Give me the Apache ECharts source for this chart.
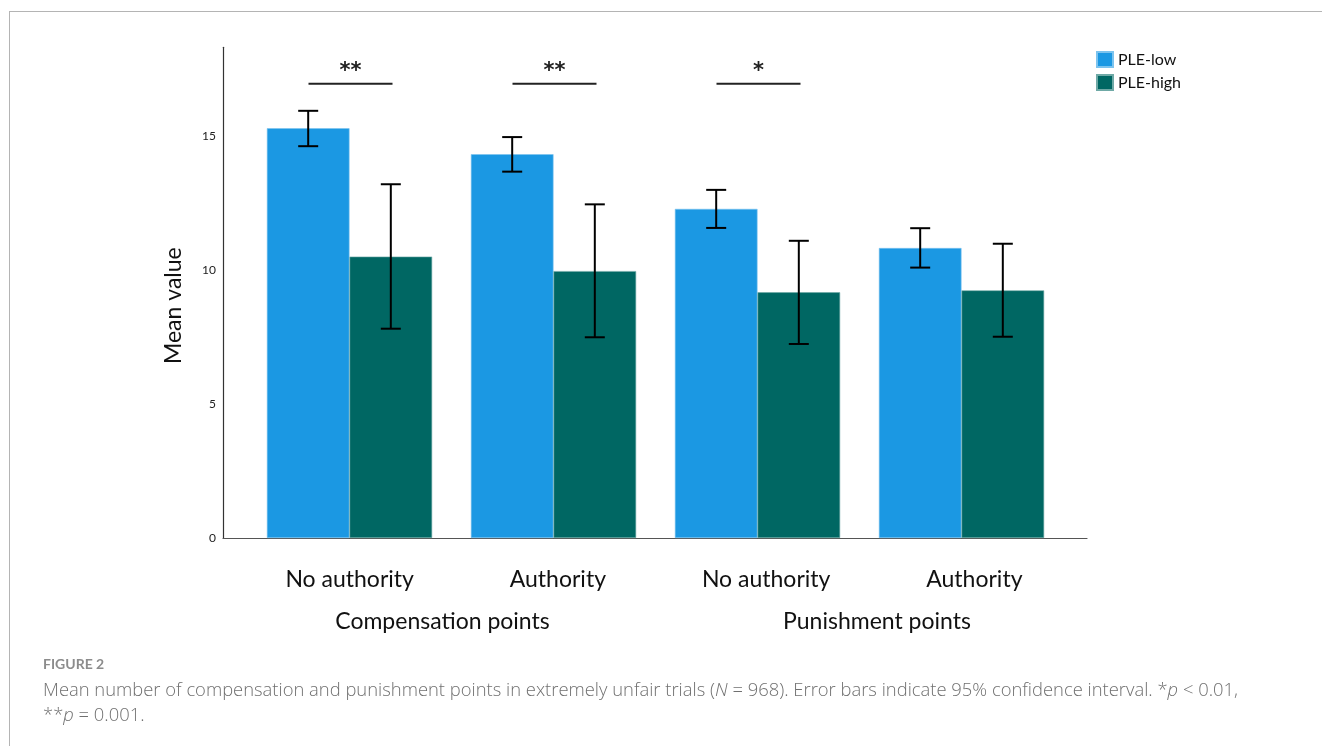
<!DOCTYPE html>
<html>
<head>
<meta charset="utf-8">
<script src="https://cdn.jsdelivr.net/npm/echarts@6/dist/echarts.min.js"></script>
<style>
html,body{margin:0;padding:0;background:#fff;}
#wrap{position:relative;width:1322px;height:746px;}
#frame{position:absolute;left:9px;top:11px;right:-5px;bottom:-5px;border-top:1.5px solid #b4b4b4;border-left:1.5px solid #b4b4b4;}
#chart{position:absolute;left:0;top:0;width:1322px;height:746px;}
</style>
</head>
<body>
<div id="wrap"><div id="frame"></div><div id="chart"></div></div>
<script>
const categories = ['No authority', 'Authority', 'No authority', 'Authority'];
const groupNames = ['Compensation points', 'Punishment points'];
const seriesNames = ['PLE-low', 'PLE-high'];
const pleLow = [15.29, 14.32, 12.28, 10.82];
const pleHigh = [10.50, 9.96, 9.17, 9.24];
const lowCiLower = [14.62, 13.67, 11.57, 10.09];
const lowCiUpper = [15.94, 14.96, 12.99, 11.56];
const highCiLower = [7.81, 7.49, 7.24, 7.51];
const highCiUpper = [13.20, 12.45, 11.09, 10.98];
const sigLabels = ['**', '**', '*'];
const sigLevel = 16.95;
const yTicks = [0, 5, 10, 15];
const yMax = 18.31;

const FONT = 'Lato, "Open Sans", sans-serif';
const colorLow = '#1b98e3';
const colorHigh = '#006763';
const catGapPct = 19;

const chart = echarts.init(document.getElementById('chart'), null, {renderer: 'canvas'});

function errRender(sign) {
  return function (params, api) {
    const idx = api.value(0);
    const lo = api.coord([idx, api.value(1)]);
    const hi = api.coord([idx, api.value(2)]);
    const band = api.size([1, 0])[0];
    const off = band * (1 - catGapPct / 100) / 4 * sign;
    const x = lo[0] + off;
    const cap = 10;
    const st = {stroke: '#000', lineWidth: 2};
    return {
      type: 'group',
      children: [
        {type: 'line', shape: {x1: x, y1: hi[1], x2: x, y2: lo[1]}, style: st},
        {type: 'line', shape: {x1: x - cap, y1: hi[1], x2: x + cap, y2: hi[1]}, style: st},
        {type: 'line', shape: {x1: x - cap, y1: lo[1], x2: x + cap, y2: lo[1]}, style: st}
      ]
    };
  };
}

function sigRender(params, api) {
  const idx = api.value(0);
  const p = api.coord([idx, api.value(1)]);
  const label = sigLabels[params.dataIndex];
  return {
    type: 'group',
    children: [
      {type: 'line', shape: {x1: p[0] - 41, y1: p[1], x2: p[0] + 43, y2: p[1]}, style: {stroke: '#222', lineWidth: 2}},
      {type: 'text', style: {text: label, x: p[0] + 1, y: p[1] - 12, align: 'center', verticalAlign: 'middle', font: 'bold 21px "DejaVu Sans", sans-serif', fill: '#222'}}
    ]
  };
}

const option = {
  backgroundColor: 'transparent',
  animation: false,
  title: {
    left: 43, top: 657, padding: 0,
    text: 'FIGURE 2',
    textStyle: {fontFamily: FONT, fontSize: 14, fontWeight: 'bold', color: '#8c8c8c'},
    itemGap: 7,
    subtext: '{a|Mean number of compensation and punishment points in extremely unfair trials (}{i|N}{a| = 968). Error bars indicate 95% confidence interval. *}{i|p}{a| < 0.01,}\n{a|**}{i|p}{a| = 0.001.}',
    subtextStyle: {
      lineHeight: 25,
      rich: {
        a: {fontFamily: '"Open Sans", sans-serif', fontWeight: 300, fontSize: 18.4, color: '#707070', lineHeight: 25},
        i: {fontFamily: '"Open Sans", sans-serif', fontWeight: 300, fontStyle: 'italic', fontSize: 18.4, color: '#707070', lineHeight: 25}
      }
    }
  },
  legend: {
    data: seriesNames,
    orient: 'vertical',
    left: 1096, top: 51, padding: 0,
    itemWidth: 16, itemHeight: 15, itemGap: 6,
    icon: 'rect',
    textStyle: {fontFamily: FONT, fontSize: 16, color: '#111'}
  },
  grid: [
    {left: 247.5, right: 258.5, top: 47.3, bottom: 208},
    {left: 223, right: 235, top: 47.3, bottom: 208},
    {left: 245.5, right: 243.5, top: 47.3, bottom: 208},
    {left: 225.25, right: 227.75, top: 47.3, bottom: 208}
  ],
  xAxis: [
    {gridIndex: 0, type: 'category', data: categories, axisLine: {show: false}, axisTick: {show: false}, axisLabel: {show: false}},
    {gridIndex: 1, type: 'value', min: 0, max: 1, axisLine: {show: true, lineStyle: {color: '#555', width: 1.2}}, axisTick: {show: false}, axisLabel: {show: false}, splitLine: {show: false}},
    {gridIndex: 2, type: 'category', data: categories, axisLine: {show: false}, axisTick: {show: false},
      axisLabel: {margin: 30, fontFamily: FONT, fontSize: 23, color: '#111'}},
    {gridIndex: 3, type: 'category', data: groupNames, axisLine: {show: false}, axisTick: {show: false},
      axisLabel: {margin: 72, fontFamily: FONT, fontSize: 23, color: '#111'}}
  ],
  yAxis: [
    {gridIndex: 0, type: 'value', min: 0, max: yMax, show: false, splitLine: {show: false}},
    {gridIndex: 1, type: 'value', min: 0, max: yMax, interval: 5,
      axisLine: {show: true, lineStyle: {color: '#333', width: 1.2}},
      axisTick: {show: false}, splitLine: {show: false},
      axisLabel: {margin: 7, fontFamily: FONT, fontSize: 12, color: '#222', showMaxLabel: false,
        formatter: v => (yTicks.indexOf(v) >= 0 ? String(v) : '')},
      name: 'Mean value', nameLocation: 'middle', nameRotate: 90, nameGap: 38,
      nameTextStyle: {fontFamily: FONT, fontSize: 23, color: '#111', padding: [0, 26, 0, 0]}},
    {gridIndex: 2, type: 'value', min: 0, max: yMax, show: false, splitLine: {show: false}},
    {gridIndex: 3, type: 'value', min: 0, max: yMax, show: false, splitLine: {show: false}}
  ],
  series: [
    {name: seriesNames[0], type: 'bar', xAxisIndex: 0, yAxisIndex: 0, data: pleLow, barGap: '0%', barCategoryGap: catGapPct + '%',
      itemStyle: {color: colorLow, borderColor: '#7cc3ee', borderWidth: 0.6}},
    {name: seriesNames[1], type: 'bar', xAxisIndex: 0, yAxisIndex: 0, data: pleHigh, barGap: '0%', barCategoryGap: catGapPct + '%',
      itemStyle: {color: colorHigh, borderColor: '#6fa9a6', borderWidth: 0.6}},
    {type: 'custom', xAxisIndex: 0, yAxisIndex: 0, renderItem: errRender(-1), z: 5,
      data: categories.map((c, i) => [i, lowCiLower[i], lowCiUpper[i]])},
    {type: 'custom', xAxisIndex: 0, yAxisIndex: 0, renderItem: errRender(1), z: 5,
      data: categories.map((c, i) => [i, highCiLower[i], highCiUpper[i]])},
    {type: 'custom', xAxisIndex: 0, yAxisIndex: 0, renderItem: sigRender, z: 5,
      data: sigLabels.map((s, i) => [i, sigLevel])}
  ]
};
chart.setOption(option);
</script>
</body>
</html>
